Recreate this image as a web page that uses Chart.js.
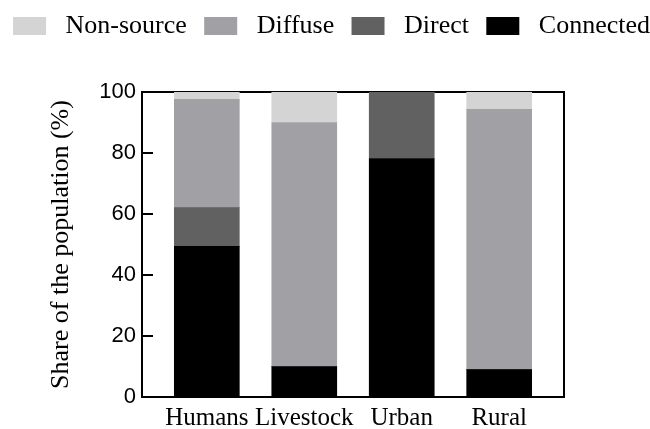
<!DOCTYPE html>
<html>
<head>
<meta charset="utf-8">
<script src="https://cdn.jsdelivr.net/npm/chart.js@4.4.1/dist/chart.umd.min.js"></script>
<style>
  html, body { margin: 0; padding: 0; background: #ffffff; }
  #wrap { width: 650px; height: 429px; }
</style>
</head>
<body>
<div id="wrap"><canvas id="chart" width="650" height="429"></canvas></div>
<script>
// Population share by source type for each group (percent)
const categories = ['Humans', 'Livestock', 'Urban', 'Rural'];
const connected = [49.4, 10.0, 78.2, 9.0];
const direct    = [12.7, 0.0, 21.8, 0.0];
const diffuse   = [35.5, 80.0, 0.0, 85.3];
const nonSource = [2.4, 10.0, 0.0, 5.7];
const yTicks = [0, 20, 40, 60, 80, 100];

const SERIF = '"Liberation Serif", "Times New Roman", serif';
const SANS = '"Liberation Sans", Arial, sans-serif';

const toPoints = values => values.map((v, i) => ({ x: i, y: v }));

// Stack order from the bottom up
const datasets = [
  { label: 'Connected',  data: toPoints(connected), backgroundColor: '#000000' },
  { label: 'Direct',     data: toPoints(direct),    backgroundColor: '#616161' },
  { label: 'Diffuse',    data: toPoints(diffuse),   backgroundColor: '#a1a0a4' },
  { label: 'Non-source', data: toPoints(nonSource), backgroundColor: '#d4d4d4' }
].map(d => Object.assign(d, { borderWidth: 0, barThickness: 65 }));

// Short inward tick marks on the value axis
const inwardTicks = {
  id: 'inwardTicks',
  afterDatasetsDraw(chart) {
    const s = chart.scales.y;
    const { ctx, chartArea } = chart;
    ctx.save();
    ctx.strokeStyle = '#000000';
    ctx.lineWidth = 2;
    s.ticks.forEach(t => {
      const y = Math.round(s.getPixelForValue(t.value));
      ctx.beginPath();
      ctx.moveTo(chartArea.left, y);
      ctx.lineTo(chartArea.left + 11, y);
      ctx.stroke();
    });
    ctx.restore();
  }
};

new Chart(document.getElementById('chart'), {
  type: 'bar',
  data: { datasets },
  plugins: [inwardTicks],
  options: {
    responsive: false,
    animation: false,
    devicePixelRatio: 1,
    layout: { padding: { top: 13, left: 0, right: 0, bottom: 0 } },
    plugins: {
      tooltip: { enabled: false },
      legend: {
        position: 'top',
        align: 'end',
        reverse: true,
        labels: {
          font: { family: SERIF, size: 26 },
          color: '#000000',
          boxWidth: 33,
          boxHeight: 18,
          padding: 0,
          generateLabels(chart) {
            const items = Chart.defaults.plugins.legend.labels.generateLabels(chart);
            return items.map(it => {
              it.text = ' ' + it.text + (it.datasetIndex === 0 ? '' : '  \u2006');
              it.lineWidth = 0;
              return it;
            });
          }
        }
      }
    },
    scales: {
      x: {
        type: 'linear',
        position: 'bottom',
        stacked: true,
        offset: false,
        min: -0.665,
        max: 3.665,
        afterBuildTicks: s => { s.ticks = categories.map((c, i) => ({ value: i })); },
        afterFit: s => { s.height = 32; },
        ticks: {
          callback: v => categories[v],
          font: { family: SERIF, size: 25 },
          color: '#000000',
          padding: 6,
          autoSkip: false,
          maxRotation: 0
        },
        grid: { display: false, drawTicks: false, offset: false },
        border: { display: true, color: '#000000', width: 2 }
      },
      y: {
        type: 'linear',
        position: 'left',
        stacked: true,
        min: 0,
        max: 100,
        afterBuildTicks: s => { s.ticks = yTicks.map(v => ({ value: v })); },
        afterFit: s => { s.width = 142; },
        ticks: {
          font: { family: SANS, size: 22 },
          color: '#000000',
          padding: 6
        },
        grid: { drawOnChartArea: false, drawTicks: false },
        border: { display: true, color: '#000000', width: 2 },
        title: {
          display: true,
          text: 'Share of the population (%)',
          font: { family: SERIF, size: 26 },
          color: '#000000',
          padding: { top: 46, bottom: 0 }
        }
      },
      // frame: top edge
      xTop: {
        type: 'linear',
        position: 'top',
        ticks: { display: false },
        grid: { display: false, drawTicks: false },
        border: { display: true, color: '#000000', width: 2 },
        afterFit: s => { s.height = 43; }
      },
      // frame: right edge
      yRight: {
        type: 'linear',
        position: 'right',
        ticks: { display: false },
        grid: { display: false, drawTicks: false },
        border: { display: true, color: '#000000', width: 2 },
        afterFit: s => { s.width = 86; }
      }
    }
  }
});
</script>
</body>
</html>
